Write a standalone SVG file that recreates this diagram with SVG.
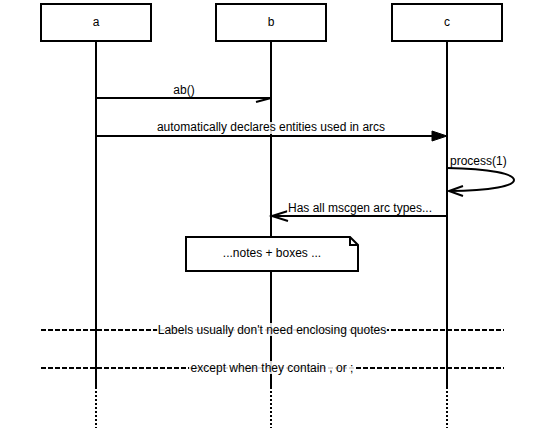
<svg xmlns="http://www.w3.org/2000/svg" width="544" height="428" viewBox="0 0 544 428">
<style>
text{font-family:"Liberation Sans",Arial,sans-serif;font-size:12px;fill:#000}
.c{text-anchor:middle}
.box{fill:#fff;stroke:#000;stroke-width:2}
.ln{fill:none;stroke:#000;stroke-width:2}
.life{stroke:#000;stroke-width:2}
.dot{stroke:#000;stroke-width:2;stroke-dasharray:2,2}
.dash{stroke:#000;stroke-width:2;stroke-dasharray:5,2}
.bg{fill:#fff;opacity:0.85}
</style>
<g id="lifelines">
<line class="life" x1="96" y1="41" x2="96" y2="387"/>
<line class="life" x1="271" y1="41" x2="271" y2="387"/>
<line class="life" x1="447" y1="41" x2="447" y2="387"/>
<line class="dot" x1="96" y1="387" x2="96" y2="428"/>
<line class="dot" x1="271" y1="387" x2="271" y2="428"/>
<line class="dot" x1="447" y1="387" x2="447" y2="428"/>
</g>
<g id="a"><rect class="box" x="41" y="4" width="110" height="37"/><text class="c" x="96" y="26">a</text></g>
<g id="b"><rect class="box" x="216" y="4" width="110" height="37"/><text class="c" x="271" y="26">b</text></g>
<g id="c"><rect class="box" x="392" y="4" width="110" height="37"/><text class="c" x="447" y="26">c</text></g>
<g id="connectors">
<line class="ln" x1="96" y1="98" x2="271" y2="98"/>
<line class="ln" x1="256" y1="102" x2="271" y2="98"/>
<rect class="bg" x="172" y="84" width="24" height="12"/>
<text class="c" x="184" y="94">ab()</text>
<line class="ln" x1="96" y1="136" x2="434" y2="136"/>
<polygon points="432,131 447,136 432,141" fill="#000" stroke="#000" stroke-width="1"/>
<rect class="bg" x="157" y="122" width="229" height="12"/>
<text class="c" x="271" y="131">automatically declares entities used in arcs</text>
<path class="ln" d="M447,168 C536,169 536,191 449,191"/>
<polyline class="ln" points="463,186 449,191 463,196"/>
<rect class="bg" x="449" y="154" width="57" height="12"/>
<text x="450" y="165">process(1)</text>
<line class="ln" x1="447" y1="216" x2="272" y2="216"/>
<polyline class="ln" points="288,211 272,216 288,221"/>
<rect class="bg" x="287" y="202" width="146" height="12"/>
<text class="c" x="360" y="212">Has all mscgen arc types...</text>
</g>
<g id="note">
<path class="box" d="M186,237 H350 L358,245 V271 H186 Z"/>
<polyline class="ln" points="350,237 350,245 358,245"/>
<text class="c" x="272" y="257">...notes + boxes ...</text>
</g>
<g id="separators">
<line class="dash" x1="41" y1="330" x2="504" y2="330"/>
<rect class="bg" x="157" y="323" width="230" height="13"/>
<text class="c" x="272" y="334">Labels usually don't need enclosing quotes</text>
<line class="dash" x1="41" y1="368" x2="504" y2="368"/>
<rect class="bg" x="189" y="361" width="166" height="13"/>
<text class="c" x="272" y="372">except when they contain , or ;</text>
</g>
</svg>
